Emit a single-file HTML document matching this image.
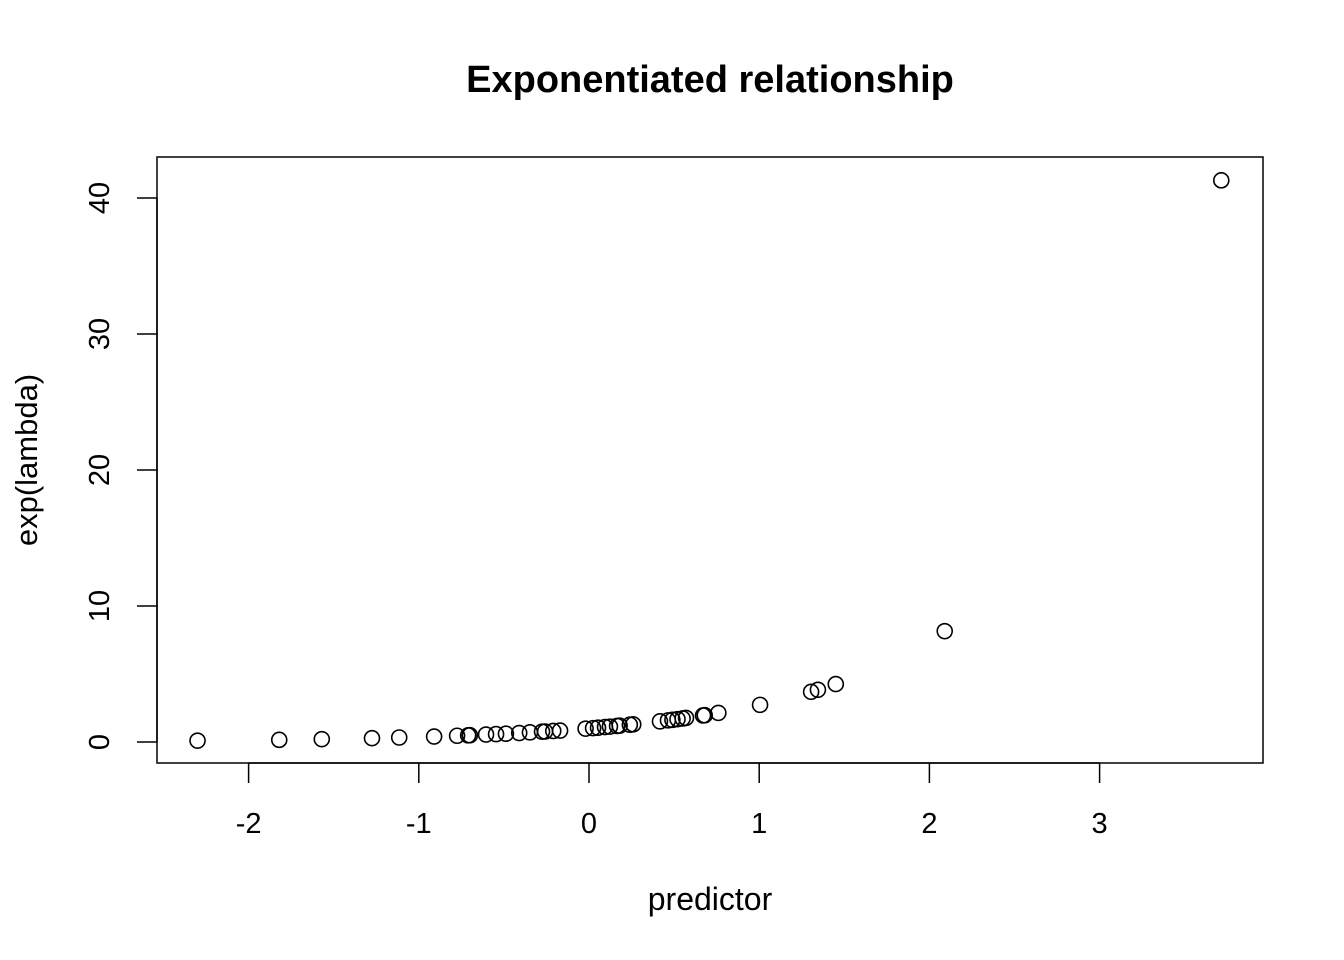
<!DOCTYPE html>
<html><head><meta charset="utf-8"><style>
html,body{margin:0;padding:0;background:#fff;}
svg{display:block;font-family:"Liberation Sans",sans-serif;}
</style></head><body>
<svg id="chart" width="1344" height="960">
<rect width="1344" height="960" fill="#fff"/>
<text x="710" y="92" text-anchor="middle" font-size="38" font-weight="bold">Exponentiated relationship</text>
<rect x="157" y="157" width="1106" height="606" fill="none" stroke="#000" stroke-width="1.5"/>
<text x="710" y="910" text-anchor="middle" font-size="32">predictor</text>
<text transform="translate(37,460) rotate(-90)" text-anchor="middle" font-size="31">exp(lambda)</text>
<g id="xaxis"></g>
<g id="yaxis"></g>
<g id="points"></g>
</svg>
<script>
const xTicks = [-2, -1, 0, 1, 2, 3];
const yTicks = [0, 10, 20, 30, 40];
const xValues = [-2.30,-1.82,-1.57,-1.275,-1.115,-0.91,-0.775,-0.71,-0.70,-0.605,-0.546,-0.488,-0.41,-0.347,-0.276,-0.258,-0.21,-0.17,-0.02,0.024,0.053,0.094,0.123,0.165,0.18,0.24,0.26,0.417,0.464,0.49,0.52,0.55,0.57,0.67,0.68,0.76,1.005,1.305,1.345,1.45,2.09,3.715];
const yValues = [0.10,0.16,0.21,0.28,0.33,0.40,0.46,0.49,0.50,0.55,0.58,0.61,0.66,0.71,0.76,0.77,0.81,0.84,0.98,1.02,1.05,1.10,1.13,1.18,1.20,1.27,1.30,1.52,1.59,1.63,1.68,1.73,1.77,1.95,1.97,2.14,2.73,3.69,3.84,4.26,8.15,41.3];
const NS = "http://www.w3.org/2000/svg";
function sx(v){ return 589 + v * 170.2; }
function sy(v){ return 742 - v * 13.6; }
function mk(tag, attrs, parent){
  const e = document.createElementNS(NS, tag);
  for (const k in attrs) e.setAttribute(k, attrs[k]);
  parent.appendChild(e);
  return e;
}
const xa = document.getElementById('xaxis');
mk('line', {x1: sx(xTicks[0]), x2: sx(xTicks[xTicks.length-1]), y1: 763, y2: 763, stroke: '#000', 'stroke-width': 1.5}, xa);
xTicks.forEach(t => {
  const l = mk('line', {x1: sx(t), x2: sx(t), y1: 763, y2: 783, stroke: '#000', 'stroke-width': 1.5}, xa);
  
  
  const tx = mk('text', {x: sx(t), y: 833, 'text-anchor': 'middle', 'font-size': 29}, xa);
  tx.textContent = t;
  
  
});
const ya = document.getElementById('yaxis');
mk('line', {x1: 157, x2: 157, y1: sy(yTicks[0]), y2: sy(yTicks[yTicks.length-1]), stroke: '#000', 'stroke-width': 1.5}, ya);
yTicks.forEach(t => {
  const l = mk('line', {x1: 137, x2: 157, y1: sy(t), y2: sy(t), stroke: '#000', 'stroke-width': 1.5}, ya);
  
  
  const tx = mk('text', {transform: 'translate(109,' + sy(t) + ') rotate(-90)', 'text-anchor': 'middle', 'font-size': 29}, ya);
  tx.textContent = t;
  
  
});
const pg = document.getElementById('points');
xValues.forEach((x, i) => {
  const c = mk('circle', {cx: sx(x), cy: sy(yValues[i]), r: 7.5, fill: 'none', stroke: '#000', 'stroke-width': 1.6}, pg);
  
  
});
</script>
</body></html>
